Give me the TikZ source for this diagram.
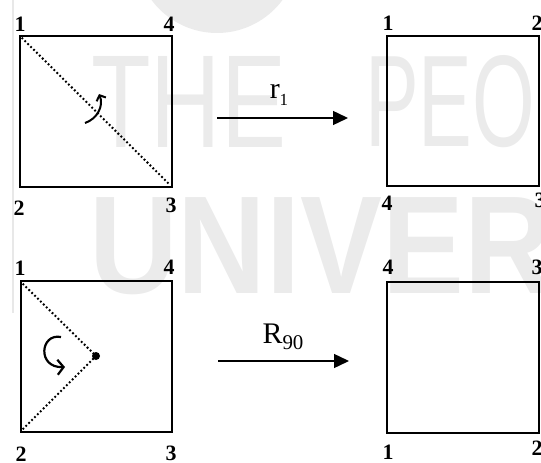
\documentclass[tikz,border=0pt]{standalone}
\usepackage{fontspec}
\setmainfont{Liberation Serif}
\setsansfont{Liberation Sans}
\usetikzlibrary{arrows.meta,calc}
\begin{document}
\begin{tikzpicture}[x=1bp,y=-1bp,
  sq/.style={draw=black, line width=2.6bp, rectangle, inner sep=0pt},
  num/.style={font=\fontsize{22}{22}\selectfont\bfseries, inner sep=0pt},
  dotline/.style={line width=2bp, dash pattern=on 1.8bp off 2.3bp},
  maparrow/.style={line width=1.4bp, -{Triangle[length=15bp,width=14bp]}},
  turn/.style={line width=2bp, -{Straight Barb[length=4.5bp,width=10bp]}},
  wm/.style={text=black!8, inner sep=0pt}]
\useasboundingbox (0,0) rectangle (541,463);
\clip (0,0) rectangle (541,463);
% watermark
\fill[black!8] (217,-48.5) circle (81.5);
\draw[black!9, line width=2bp] (13,0) -- (13,313);
\node[wm, anchor=south west] (wm1) at (91,148) {\resizebox{195bp}{91bp}{\sffamily THE}};
\node[wm, anchor=south west] (wm2) at (365,148) {\resizebox{170bp}{91bp}{\sffamily PEO}};
\node[wm, anchor=base west] (wm3) at (89,293) {\scalebox{0.88}[1]{\fontsize{140}{140}\selectfont\sffamily\bfseries UNIVER}};
% squares
\node[sq, minimum width=152bp, minimum height=151bp] (A) at (96,111.5) {};
\node[sq, minimum width=151bp, minimum height=151bp] (B) at (96.5,356.5) {};
\node[sq, minimum width=152bp, minimum height=150bp] (C) at (463,111) {};
\node[sq, minimum width=152bp, minimum height=151bp] (D) at (463,357.5) {};
% labels
\node[num] (a1) at (20,24) {1};
\node[num] (a4) at (169,24) {4};
\node[num] (a2) at (19,208) {2};
\node[num] (a3) at (171,205) {3};
\node[num] (b1) at (20,268) {1};
\node[num] (b4) at (169,267) {4};
\node[num] (b2) at (21,454) {2};
\node[num] (b3) at (171,453) {3};
\node[num] (c1) at (388,23) {1};
\node[num] (c2) at (537,23) {2};
\node[num] (c4) at (387,203) {4};
\node[num] (c3) at (540,200) {3};
\node[num] (d4) at (388,267) {4};
\node[num] (d3) at (537,267) {3};
\node[num] (d1) at (388,452) {1};
\node[num] (d2) at (537,448) {2};
% diagonal and reflection arrow
\draw[dotline] ($(A.north west)+(3,3)$) -- ($(A.south east)+(-4,-4)$);
\coordinate (r0) at (85,123);
\coordinate (r1) at (99,94);
\draw[turn] (r0) .. controls (97,119) and (104,106) .. (r1);
% rotation centre
\node[circle, fill=black, inner sep=0pt, minimum size=8bp] (O) at (96,356) {};
\draw[dotline] ($(B.north west)+(3,4)$) -- (O.center);
\draw[dotline] ($(B.south west)+(3,-4)$) -- (O.center);
\coordinate (t0) at (61,337);
\coordinate (t1) at (65,367);
\draw[line width=2.2bp, -{Straight Barb[length=6bp,width=15bp]}] (t0) .. controls (40,333) and (37,368) .. (t1);
% mapping arrows
\coordinate (p0) at (217,118);
\coordinate (p1) at (348,118);
\draw[maparrow] (p0) -- (p1);
\node[inner sep=0pt] (rl) at (279,95) {\fontsize{30}{30}\selectfont r\raisebox{-7bp}{\fontsize{17}{17}\selectfont 1}};
\coordinate (q0) at (218,361);
\coordinate (q1) at (349,361);
\draw[maparrow] (q0) -- (q1);
\node[inner sep=0pt] (Rl) at (283,337) {\fontsize{30}{30}\selectfont R\raisebox{-6bp}{\fontsize{21}{21}\selectfont 90}};
\end{tikzpicture}
\end{document}
